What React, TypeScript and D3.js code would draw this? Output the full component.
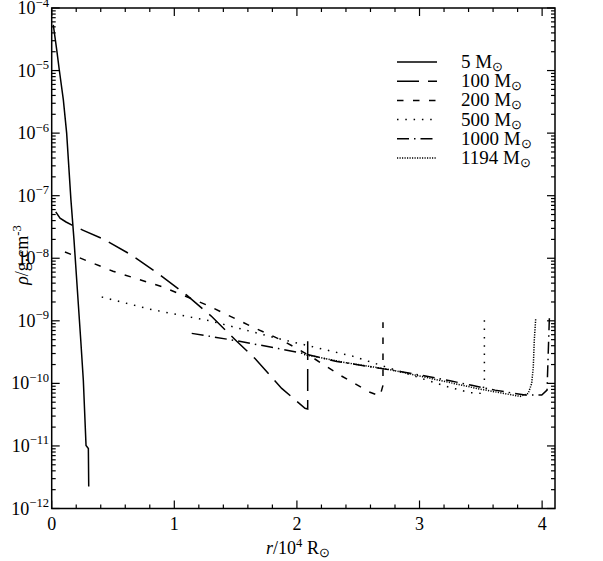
import React from 'react';
import * as d3 from 'd3';

// ---- data (r in 10^4 Rsun, rho in g cm^-3) ----
const r5 = [0.013, 0.041, 0.062, 0.095, 0.122, 0.157, 0.182, 0.237, 0.258, 0.28, 0.299, 0.302];
const rho5 = [5.37e-5, 2.14e-5, 1.02e-5, 3.39e-6, 1.0e-6, 8.5e-8, 1.95e-8, 4.9e-10, 1.12e-10, 1.02e-11, 9.1e-12, 2.24e-12];

const r100 = [0.033, 0.068, 0.117, 0.176, 0.253, 0.418, 0.653, 0.883, 1.101, 1.305, 1.509, 1.658, 1.876, 2.066, 2.088, 2.088];
const rho100 = [5.5e-8, 4.37e-8, 3.8e-8, 3.31e-8, 2.82e-8, 2.04e-8, 1.12e-8, 5.4e-9, 2.57e-9, 1.17e-9, 4.7e-10, 2.5e-10, 8.3e-11, 4.0e-11, 3.9e-11, 4.7e-10];

const r200 = [0.108, 0.5, 0.908, 1.267, 1.642, 1.887, 2.107, 2.352, 2.596, 2.678, 2.702, 2.702];
const rho200 = [1.26e-8, 6.2e-9, 3.47e-9, 1.78e-9, 7.9e-10, 4.8e-10, 2.75e-10, 1.35e-10, 7.2e-11, 6.3e-11, 9.3e-11, 9.5e-10];

const r500 = [0.408, 0.816, 1.291, 1.848, 2.46, 2.841, 3.222, 3.412, 3.51, 3.529, 3.529];
const rho500 = [2.4e-9, 1.51e-9, 1.0e-9, 5.2e-10, 2.7e-10, 1.55e-10, 8.9e-11, 7.1e-11, 6.9e-11, 1.0e-10, 1.1e-9];

const r1000 = [1.142, 1.509, 1.848, 2.052, 2.325, 2.841, 3.069, 3.249, 3.426, 3.616, 3.861, 3.997, 4.04, 4.059];
const rho1000 = [6.3e-10, 4.8e-10, 3.6e-10, 3.0e-10, 2.24e-10, 1.55e-10, 1.29e-10, 1.1e-10, 9.3e-11, 7.8e-11, 6.5e-11, 6.5e-11, 7.8e-11, 1.1e-9];

const r1194 = [2.058, 2.4, 2.759, 3.493, 3.82, 3.887, 3.915, 3.928, 3.936, 3.948];
const rho1194 = [2.9e-10, 2.14e-10, 1.66e-10, 8.1e-11, 6.2e-11, 6.9e-11, 1.0e-10, 1.86e-10, 4.9e-10, 1.1e-9];

const massLabels = ['5', '100', '200', '500', '1000', '1194'];
const xTickValues = [0, 1, 2, 3, 4];
const yExponents = [-4, -5, -6, -7, -8, -9, -10, -11, -12];

const dashes = ['none', '22,9', '6.5,9.5', '1.5,6.8', '12,5,1.5,5', '1.2,1.3'];

const FONT = "'Liberation Serif', 'Times New Roman', Times, serif";

export default function App() {
  const W = 603, H = 561;
  const left = 51.7, right = 555, top = 8, bottom = 508.5;
  const x = d3.scaleLinear().domain([0, 4.105]).range([left, right]);
  const y = d3.scaleLog().domain([1e-12, 1e-4]).range([bottom, top]);
  const line = d3.line<[number, number]>().x(d => x(d[0])).y(d => y(d[1]));

  const series = [
    [r5, rho5], [r100, rho100], [r200, rho200], [r500, rho500], [r1000, rho1000], [r1194, rho1194],
  ].map(([rs, ps]) => rs.map((v, i) => [v, ps[i]] as [number, number]));

  const xMinor = d3.range(0, 4.105, 0.2).filter(v => Math.abs(v - Math.round(v)) > 1e-6);
  const yMinor: number[] = [];
  for (let e = -12; e < -4; e++) for (let k = 2; k <= 9; k++) yMinor.push(k * Math.pow(10, e));

  const legY0 = 62, legStep = 19.2;
  const txt = { fontFamily: FONT };

  return (
    <svg width={W} height={H} style={{ position: 'absolute', left: 0, top: 0, background: '#fff' }}>
      <defs>
        <clipPath id="plotclip">
          <rect x={left} y={top} width={right - left} height={bottom - top} />
        </clipPath>
      </defs>
      <rect x={0} y={0} width={W} height={H} fill="#fff" />
      <g clipPath="url(#plotclip)">
        {series.map((pts, i) => (
          <path key={i} d={line(pts) || ''} fill="none" stroke="#000" strokeWidth={1.5}
            strokeDasharray={dashes[i]} />
        ))}
      </g>
      {/* frame */}
      <rect x={left} y={top} width={right - left} height={bottom - top} fill="none" stroke="#000" strokeWidth={1.5} />
      {/* x ticks */}
      {xTickValues.map(v => (
        <g key={'xt' + v}>
          <line x1={x(v)} x2={x(v)} y1={bottom} y2={bottom - 8} stroke="#000" strokeWidth={1.2} />
          <line x1={x(v)} x2={x(v)} y1={top} y2={top + 8} stroke="#000" strokeWidth={1.2} />
          <text x={x(v)} y={530} fontSize={18} textAnchor="middle" style={txt}>{v}</text>
        </g>
      ))}
      {xMinor.map(v => (
        <g key={'xm' + v}>
          <line x1={x(v)} x2={x(v)} y1={bottom} y2={bottom - 4} stroke="#000" strokeWidth={1.2} />
          <line x1={x(v)} x2={x(v)} y1={top} y2={top + 4} stroke="#000" strokeWidth={1.2} />
        </g>
      ))}
      {/* y ticks */}
      {yExponents.map(e => {
        const yy = y(Math.pow(10, e));
        return (
          <g key={'yt' + e}>
            <line x1={left} x2={left + 8} y1={yy} y2={yy} stroke="#000" strokeWidth={1.2} />
            <line x1={right} x2={right - 8} y1={yy} y2={yy} stroke="#000" strokeWidth={1.2} />
            <text x={49} y={yy + 6} fontSize={18} textAnchor="end" style={txt}>
              10<tspan fontSize={12.6} dy={-7.5}>{'\u2212' + Math.abs(e)}</tspan>
            </text>
          </g>
        );
      })}
      {yMinor.map((v, i) => (
        <g key={'ym' + i}>
          <line x1={left} x2={left + 4} y1={y(v)} y2={y(v)} stroke="#000" strokeWidth={1.2} />
          <line x1={right} x2={right - 4} y1={y(v)} y2={y(v)} stroke="#000" strokeWidth={1.2} />
        </g>
      ))}
      {/* axis labels */}
      <text x={298} y={554} fontSize={18} textAnchor="middle" style={txt}>
        <tspan fontStyle="italic">r</tspan>/10<tspan fontSize={12.6} dy={-7.5}>4</tspan>
        <tspan dy={7.5}> R</tspan><tspan fontSize={12.6} dy={3}>{'\u2299'}</tspan>
      </text>
      <text transform={`translate(28,255) rotate(-90)`} fontSize={18} textAnchor="middle" style={txt}>
        <tspan fontStyle="italic">ρ</tspan>/g.cm<tspan fontSize={12.6} dy={-7.5}>-3</tspan>
      </text>
      {/* legend */}
      {massLabels.map((m, i) => {
        const ly = legY0 + i * legStep;
        return (
          <g key={'lg' + m}>
            <line x1={397} x2={437} y1={ly} y2={ly} stroke="#000" strokeWidth={1.5} strokeDasharray={dashes[i]} />
            <text x={461} y={ly + 6} fontSize={19} style={txt}>
              {m} M<tspan fontSize={13} dy={3}>{'\u2299'}</tspan>
            </text>
          </g>
        );
      })}
    </svg>
  );
}
